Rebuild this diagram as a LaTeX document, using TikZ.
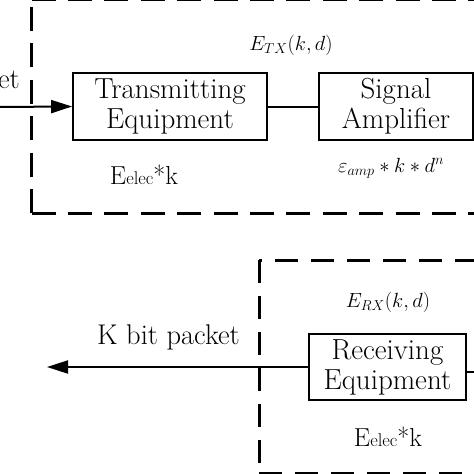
\RequirePackage{fix-cm}
\documentclass[tikz,border=0pt]{standalone}
\usetikzlibrary{arrows.meta}
\tikzset{
  dashedge/.style={line width=3pt, dash pattern=on 24pt off 12.4pt},
  dashedgeb/.style={line width=3pt, dash pattern=on 23pt off 13pt},
  blk/.style={draw, line width=1.7pt, minimum height=67pt, inner sep=0pt, align=center,
    font=\fontsize{29}{30}\selectfont},
  conn/.style={line width=2pt},
  arr/.style={conn, -{Triangle[length=21pt,width=13pt]}},
  mathlbl/.style={inner sep=0pt, font=\fontsize{20.5}{20.5}\selectfont},
  plain/.style={inner sep=0pt, font=\fontsize{28.5}{28.5}\selectfont},
  eel/.style={inner sep=0pt},
}
\newcommand{\eelec}{{\fontsize{26}{26}\selectfont E\fontsize{18.5}{18.5}\selectfont elec\fontsize{26}{26}\selectfont *k}}
\begin{document}
\begin{tikzpicture}[x=1pt, y=-1pt]
\useasboundingbox (0,0) rectangle (474,474);
\clip (0,0) rectangle (474,474);
% top dashed frame
\draw[dashedge] (31.5,213) -- (31.5,-0.5);
\draw[dashedge] (31.5,213) -- (520,213);
\draw[dashedge] (31.5,-0.5) -- (520,-0.5);
% bottom dashed frame
\draw[dashedgeb] (259,260) -- (259,474);
\draw[dashedgeb, dash phase=20pt] (259,260) -- (520,260);
\draw[dashedgeb] (259,473.5) -- (520,473.5);
% blocks
\node[blk, minimum width=194pt] (tx) at (170,106.5) {Transmitting\\Equipment};
\node[blk, minimum width=154pt] (amp) at (396,106.5) {Signal\\Amplifier};
\node[blk, minimum width=157pt, minimum height=66pt] (rx) at (387.5,367) {Receiving\\Equipment};
% labels
\node[mathlbl] (etx) at (291,45) {$E_{TX}(k,d)$};
\node[mathlbl] (eamp) at (391,168) {$\varepsilon_{amp}*k*d^{n}$};
\node[mathlbl] (erx) at (388,302) {$E_{RX}(k,d)$};
\node[eel] (eel1) at (144,175) {\eelec};
\node[eel] (eel2) at (388,437) {\eelec};
\node[plain, anchor=base east] (kin) at (20,88) {K bit packet};
\node[plain, anchor=base east] (kout) at (240,344) {K bit packet};
% connectors
\coordinate (inL) at (-5,107);
\draw[arr] (inL) -- (tx.west);
\draw[conn] (tx.east) -- (amp.west);
\coordinate (outL) at (47,367);
\draw[arr] (rx.west) -- (outL);
\coordinate (rxR) at (480,372);
\draw[conn] ([yshift=-5pt]rx.east) -- (rxR);
\end{tikzpicture}
\end{document}
